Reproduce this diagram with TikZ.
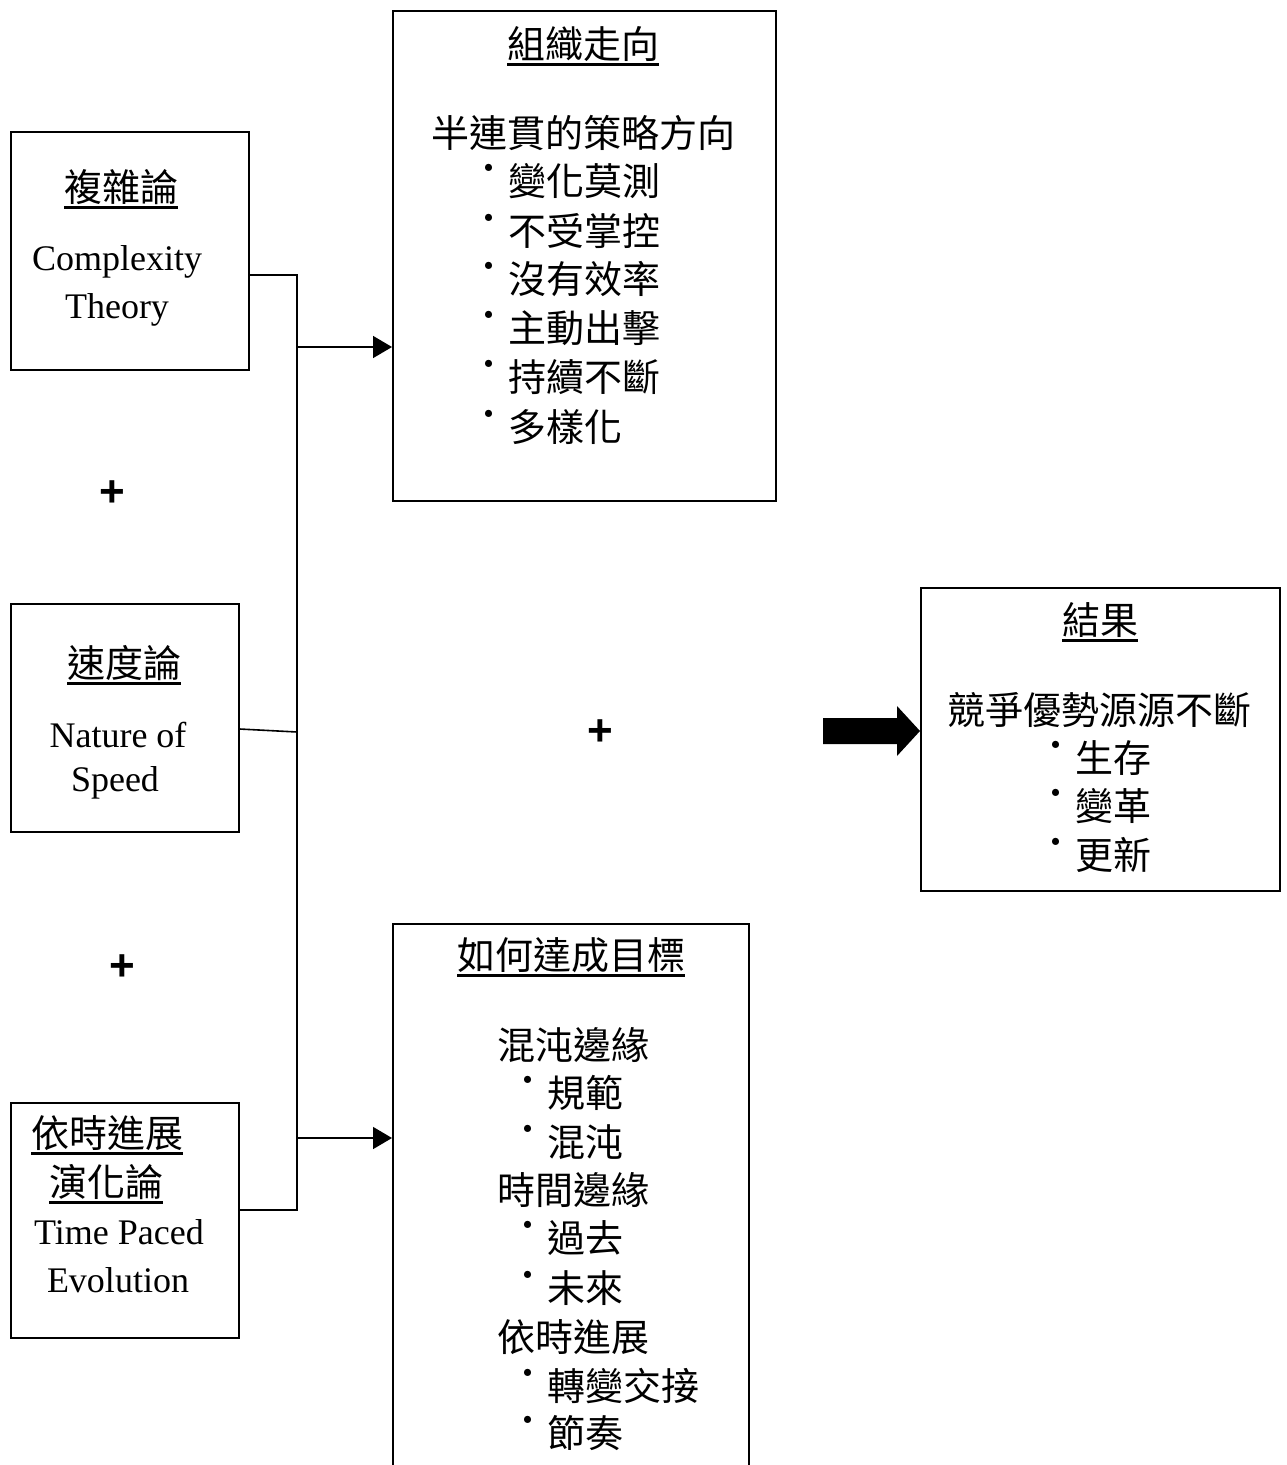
\documentclass[tikz,border=0pt]{standalone}
\usepackage{fontspec}
\setmainfont{Liberation Serif}
\newfontfamily\cjk{Noto Sans CJK TC}
\newfontfamily\plusfont{Liberation Sans}
\usetikzlibrary{arrows.meta}
\begin{document}
\begin{tikzpicture}[x=1pt,y=-1pt]
\useasboundingbox[fill=white] (0,0) rectangle (1287,1465);
\tikzset{
  box/.style={draw, line width=1.6pt, inner sep=0pt, anchor=north west},
  zh/.style={font=\cjk\fontsize{38}{40}\selectfont, inner sep=0pt},
  en/.style={font=\fontsize{36}{40}\selectfont, inner sep=0pt},
  bul/.style={zh, anchor=west},
  plus/.style={font=\plusfont\bfseries\fontsize{44}{46}\selectfont, inner sep=0pt},
  conn/.style={line width=1.6pt},
  arr/.style={conn, -{Triangle[length=19pt,width=22pt]}}
}
\newcommand{\bu}{\llap{\raisebox{13pt}{˙}\hspace{10pt}}}
\newcommand{\ul}[1]{\leavevmode\vtop{\hbox{#1}\kern1pt\hrule height 3pt}}
% left boxes
\node[box, minimum width=238pt, minimum height=238pt] (b1) at (10,131) {};
\node[zh] (t1) at (121,189) {\ul{複雜論}};
\node[en] (t1a) at (117,262) {Complexity};
\node[en] (t1b) at (117,310) {Theory};

\node[box, minimum width=228pt, minimum height=228pt] (b2) at (10,603) {};
\node[zh] (t2) at (124,665) {\ul{速度論}};
\node[en] (t2a) at (118,735) {Nature of};
\node[en] (t2b) at (115,783) {Speed};

\node[box, minimum width=228pt, minimum height=235pt] (b3) at (10,1102) {};
\node[zh] (t3) at (107,1135) {\ul{依時進展}};
\node[zh] (t3a) at (106,1184) {\ul{演化論}};
\node[en] (t3b) at (119,1232) {Time Paced};
\node[en] (t3c) at (118,1280) {Evolution};

\node[plus] (p1) at (112,494) {+};
\node[plus] (p2) at (122,968) {+};
\node[plus] (p3) at (600,733) {+};

% top middle box
\node[box, minimum width=383pt, minimum height=490pt] (b4) at (392,10) {};
\node[zh] (t4) at (583,46) {\ul{組織走向}};
\node[zh] (t4a) at (583,133) {半連貫的策略方向};
\node[bul] (t4b) at (508,181) {\bu 變化莫測};
\node[bul] (t4c) at (508,231) {\bu 不受掌控};
\node[bul] (t4d) at (508,279) {\bu 沒有效率};
\node[bul] (t4e) at (508,328) {\bu 主動出擊};
\node[bul] (t4f) at (508,377) {\bu 持續不斷};
\node[bul] (t4g) at (508,427) {\bu 多樣化};

% bottom middle box
\node[box, minimum width=356pt, minimum height=560pt] (b6) at (392,923) {};
\node[zh] (t6) at (571,957) {\ul{如何達成目標}};
\node[bul] (t6a) at (497,1045) {混沌邊緣};
\node[bul] (t6b) at (547,1093) {\bu 規範};
\node[bul] (t6c) at (547,1142) {\bu 混沌};
\node[bul] (t6d) at (497,1190) {時間邊緣};
\node[bul] (t6e) at (547,1238) {\bu 過去};
\node[bul] (t6f) at (547,1288) {\bu 未來};
\node[bul] (t6g) at (497,1337) {依時進展};
\node[bul] (t6h) at (547,1386) {\bu 轉變交接};
\node[bul] (t6i) at (547,1433) {\bu 節奏};

% result box
\node[box, minimum width=359pt, minimum height=303pt] (b5) at (920,587) {};
\node[zh] (t5) at (1100,622) {\ul{結果}};
\node[zh] (t5a) at (1099,710) {競爭優勢源源不斷};
\node[bul] (t5b) at (1075,758) {\bu 生存};
\node[bul] (t5c) at (1075,806) {\bu 變革};
\node[bul] (t5d) at (1075,855) {\bu 更新};

% connectors
\coordinate (j1) at (297,275);
\coordinate (j2) at (297,732);
\coordinate (j3) at (297,1210);
\coordinate (a1) at (297,347);
\coordinate (a2) at (297,1138);
\draw[conn] (b1.east |- j1) -- (j1) -- (j3) -- (b3.east |- j3);
\draw[conn] (b2.east |- 0,729) -- (j2);
\draw[arr] (a1) -- (b4.west |- a1);
\draw[arr] (a2) -- (b6.west |- a2);

% big arrow
\fill (823,718) -- (897,718) -- (897,706) -- (b5.west |- 0,731) -- (897,756) -- (897,744) -- (823,744) -- cycle;
\end{tikzpicture}
\end{document}
